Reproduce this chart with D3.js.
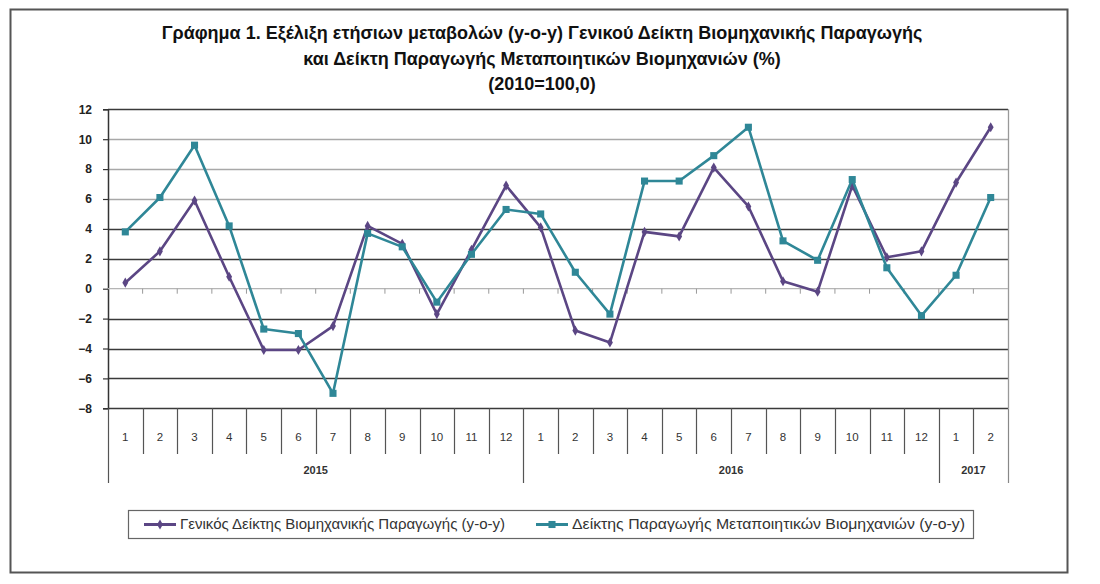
<!DOCTYPE html>
<html>
<head>
<meta charset="utf-8">
<script src="https://cdn.jsdelivr.net/npm/d3@7"></script>
<style>
  body { margin: 0; background: #fff; }
  svg { display: block; }
</style>
</head>
<body>
<svg width="1100" height="584"></svg>
<script>
// chart data
const titleLines = [
  "Γράφημα 1. Εξέλιξη ετήσιων μεταβολών (y-o-y) Γενικού Δείκτη Βιομηχανικής Παραγωγής",
  "και Δείκτη Παραγωγής Μεταποιητικών Βιομηχανιών (%)",
  "(2010=100,0)"
];
const monthLabels = ["1","2","3","4","5","6","7","8","9","10","11","12",
                     "1","2","3","4","5","6","7","8","9","10","11","12",
                     "1","2"];
const yearLabels = ["2015", "2016", "2017"];
const yearSpans = [12, 12, 2];
const yTicks = [-8, -6, -4, -2, 0, 2, 4, 6, 8, 10, 12];

const generalIndex = [0.4, 2.5, 5.9, 0.8, -4.1, -4.1, -2.5, 4.2, 3.0, -1.7, 2.6, 6.9,
                      4.1, -2.8, -3.6, 3.8, 3.5, 8.1, 5.5, 0.5, -0.2, 6.9, 2.1, 2.5,
                      7.1, 10.8];
const manufIndex = [3.8, 6.1, 9.6, 4.2, -2.7, -3.0, -7.0, 3.7, 2.8, -0.9, 2.3, 5.3,
                    5.0, 1.1, -1.7, 7.2, 7.2, 8.9, 10.8, 3.2, 1.9, 7.3, 1.4, -1.8,
                    0.9, 6.1];
const seriesNames = [
  "Γενικός Δείκτης Βιομηχανικής Παραγωγής (y-o-y)",
  "Δείκτης Παραγωγής Μεταποιητικών Βιομηχανιών (y-o-y)"
];

// category keys like "2015-1"
const categories = [];
yearLabels.forEach((y, i) => {
  const start = d3.sum(yearSpans.slice(0, i));
  for (let k = 0; k < yearSpans[i]; k++) categories.push(y + "-" + monthLabels[start + k]);
});

const svg = d3.select("svg");
const font = "'Liberation Sans Narrow', 'Liberation Sans', sans-serif";

// outer frame
svg.append("rect")
  .attr("x", 10.5).attr("y", 9.5).attr("width", 1057).attr("height", 563)
  .attr("fill", "#fff").attr("stroke", "#555").attr("stroke-width", 2);

// title
svg.append("g").selectAll("text")
  .data(titleLines)
  .join("text")
  .attr("x", 542)
  .attr("y", (d, i) => 39 + i * 25.5)
  .attr("text-anchor", "middle")
  .attr("font-family", font)
  .attr("font-weight", "bold")
  .attr("font-size", 18)
  .attr("fill", "#111")
  .text(d => d);

const plot = { left: 108, right: 1008, top: 109.3, bottom: 408.3 };

const x = d3.scaleBand().domain(categories).range([plot.left, plot.right]);
const y = d3.scaleLinear().domain([-8, 12]).range([plot.bottom, plot.top]);

// gridlines (lighter at the upper values, as in the scan)
const lightGrid = [6, 8, 10];
svg.append("g").selectAll("line")
  .data(yTicks.filter(d => d !== 0))
  .join("line")
  .attr("x1", plot.left).attr("x2", plot.right)
  .attr("y1", d => Math.round(y(d)) + 0.5).attr("y2", d => Math.round(y(d)) + 0.5)
  .attr("stroke", d => lightGrid.includes(d) ? "#a8a8a8" : "#3a3a3a")
  .attr("stroke-width", 1.3);

// right border of plot
svg.append("line")
  .attr("x1", plot.right + 0.5).attr("x2", plot.right + 0.5)
  .attr("y1", plot.top).attr("y2", plot.bottom)
  .attr("stroke", "#999").attr("stroke-width", 1.3);

// y axis
const yAxis = svg.append("g")
  .attr("transform", `translate(${plot.left},0)`)
  .call(d3.axisLeft(y).tickValues(yTicks).tickSize(5).tickPadding(11).tickFormat(d3.format("d")));
yAxis.select(".domain").attr("stroke", "#333").attr("stroke-width", 1.5);
yAxis.selectAll(".tick line").attr("stroke", "#333").attr("stroke-width", 1.2);
yAxis.selectAll("text").attr("font-family", font).attr("font-size", 12)
  .attr("font-weight", "bold").attr("fill", "#222");

// zero line with small category ticks
svg.append("line")
  .attr("x1", plot.left).attr("x2", plot.right)
  .attr("y1", y(0)).attr("y2", y(0))
  .attr("stroke", "#b5b5b5").attr("stroke-width", 1.3);
svg.append("g").selectAll("line")
  .data(categories.slice(1))
  .join("line")
  .attr("x1", d => x(d)).attr("x2", d => x(d))
  .attr("y1", y(0)).attr("y2", y(0) + 5)
  .attr("stroke", "#999").attr("stroke-width", 1);

// category axis: month row
const monthRowBottom = 454;
const yearRowBottom = 483;
svg.append("g").selectAll("line")
  .data(categories)
  .join("line")
  .attr("x1", d => Math.round(x(d)) + 0.5).attr("x2", d => Math.round(x(d)) + 0.5)
  .attr("y1", plot.bottom).attr("y2", monthRowBottom)
  .attr("stroke", "#555").attr("stroke-width", 1.2);
svg.append("line")
  .attr("x1", plot.right + 0.5).attr("x2", plot.right + 0.5)
  .attr("y1", plot.bottom).attr("y2", yearRowBottom)
  .attr("stroke", "#888").attr("stroke-width", 1.2);
svg.append("g").selectAll("text")
  .data(categories)
  .join("text")
  .attr("x", d => x(d) + x.bandwidth() / 2)
  .attr("y", 441)
  .attr("text-anchor", "middle")
  .attr("font-family", font).attr("font-size", 11.5).attr("fill", "#333")
  .text((d, i) => monthLabels[i]);

// year row
const yearGroups = yearLabels.map((yl, i) => {
  const start = d3.sum(yearSpans.slice(0, i));
  return { label: yl, first: categories[start], last: categories[start + yearSpans[i] - 1] };
});
svg.append("g").selectAll("line")
  .data(yearGroups)
  .join("line")
  .attr("x1", d => Math.round(x(d.first)) + 0.5).attr("x2", d => Math.round(x(d.first)) + 0.5)
  .attr("y1", monthRowBottom).attr("y2", yearRowBottom)
  .attr("stroke", "#555").attr("stroke-width", 1.2);
svg.append("g").selectAll("text")
  .data(yearGroups)
  .join("text")
  .attr("x", d => (x(d.first) + x(d.last) + x.bandwidth()) / 2)
  .attr("y", 474)
  .attr("text-anchor", "middle")
  .attr("font-family", font).attr("font-size", 11).attr("font-weight", "bold").attr("fill", "#333")
  .text(d => d.label);

// series
const series = [
  { name: seriesNames[0], values: generalIndex, color: "#5b4684", marker: d3.symbolDiamond, size: 30 },
  { name: seriesNames[1], values: manufIndex, color: "#2f8797", marker: d3.symbolSquare, size: 50 }
];
const line = d3.line()
  .x((d, i) => x(categories[i]) + x.bandwidth() / 2)
  .y(d => y(d));

series.forEach(s => {
  const g = svg.append("g");
  g.append("path")
    .attr("d", line(s.values))
    .attr("fill", "none")
    .attr("stroke", s.color)
    .attr("stroke-width", 2.6)
    .attr("stroke-linejoin", "round");
  g.selectAll("path.mk")
    .data(s.values)
    .join("path")
    .attr("class", "mk")
    .attr("transform", (d, i) => `translate(${x(categories[i]) + x.bandwidth() / 2},${y(d)})`)
    .attr("d", d3.symbol().type(s.marker).size(s.size))
    .attr("fill", s.color);
});

// legend
svg.append("rect")
  .attr("x", 128.5).attr("y", 510.5).attr("width", 845).attr("height", 28)
  .attr("fill", "#fff").attr("stroke", "#666").attr("stroke-width", 1.2);
const legendItems = [
  { s: series[0], x0: 144, tx: 180, w: 325 },
  { s: series[1], x0: 536, tx: 572, w: 393 }
];
legendItems.forEach(it => {
  svg.append("line")
    .attr("x1", it.x0).attr("x2", it.x0 + 32)
    .attr("y1", 524.5).attr("y2", 524.5)
    .attr("stroke", it.s.color).attr("stroke-width", 3);
  svg.append("path")
    .attr("transform", `translate(${it.x0 + 16},524.5)`)
    .attr("d", d3.symbol().type(it.s.marker).size(it.s.size))
    .attr("fill", it.s.color);
  svg.append("text")
    .attr("x", it.tx).attr("y", 529)
    .attr("font-family", font).attr("font-size", 14).attr("fill", "#333")
    .attr("textLength", it.w).attr("lengthAdjust", "spacingAndGlyphs")
    .text(it.s.name);
});
</script>
</body>
</html>
